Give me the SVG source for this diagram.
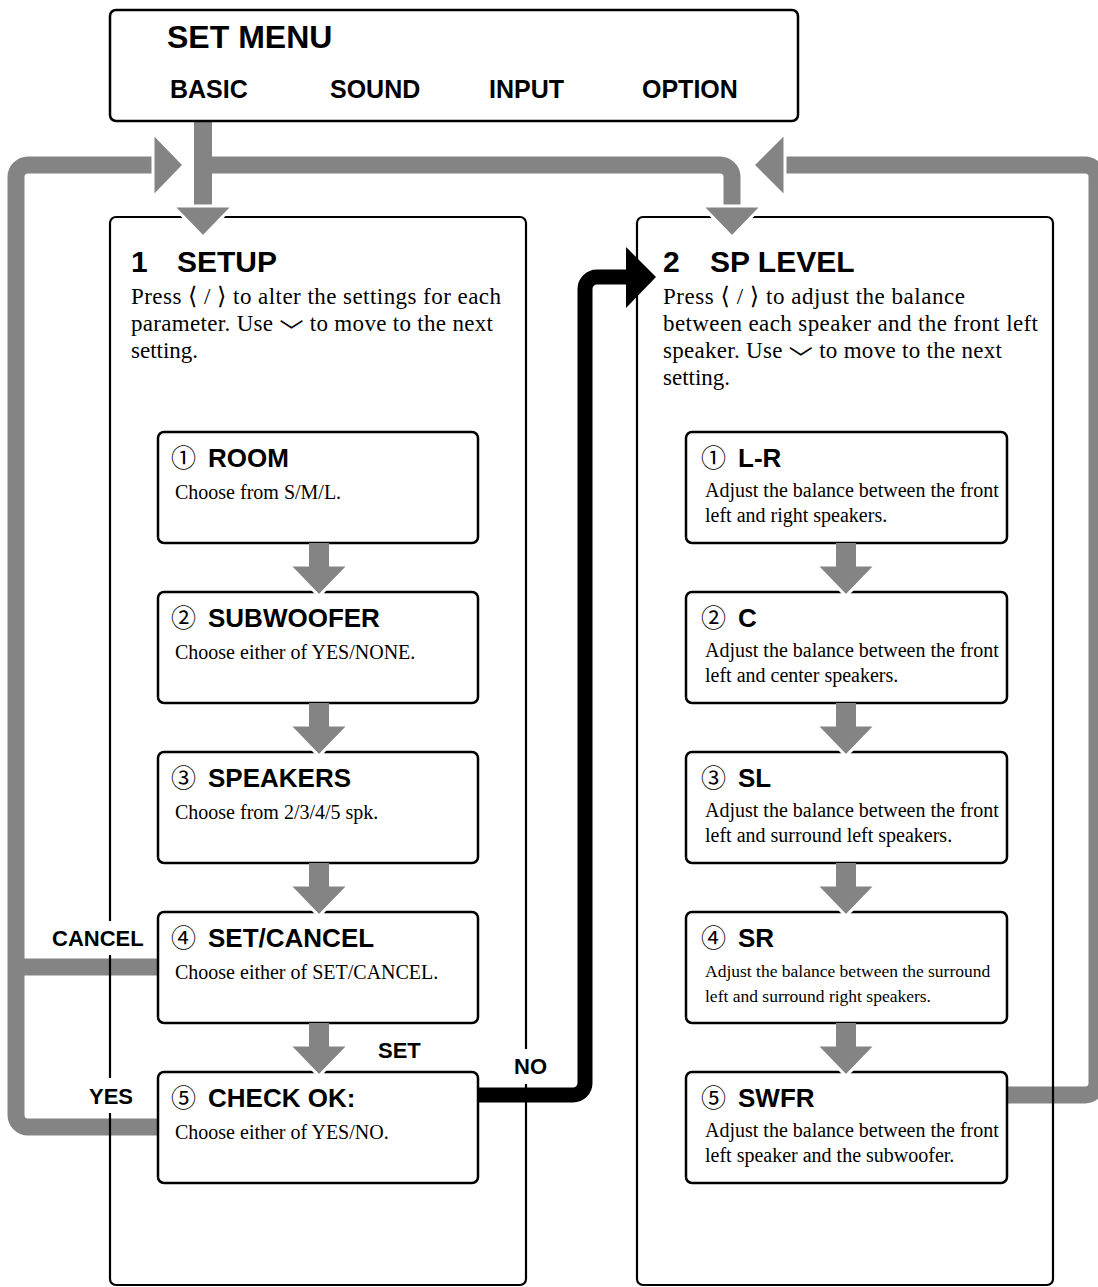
<svg xmlns="http://www.w3.org/2000/svg" width="1098" height="1287" viewBox="0 0 1098 1287">
<defs>
<style>
.frame{fill:none;stroke:#000;stroke-width:2.2}
.box{fill:#fff;stroke:#000;stroke-width:2.5}
.bar{fill:none;stroke:#848484;stroke-width:17;stroke-linejoin:round}
.head{fill:#848484;stroke:#fff;stroke-width:3;stroke-linejoin:miter}
.shaft{fill:#848484}
.bsans{font-family:"Liberation Sans",Arial,sans-serif;font-weight:bold;fill:#000}
.serif{font-family:"Liberation Serif","Times New Roman",serif;fill:#000}
.sym{font-family:"DejaVu Sans",sans-serif;font-size:24px}
.chev{font-family:"Noto Sans CJK JP",sans-serif;font-size:24px}
.circ{font-family:"Noto Sans CJK JP","DejaVu Sans",sans-serif;font-size:25px;fill:#000}
.ptitle{font-size:30px}
.btitle{font-size:26px}
.ptext{font-size:23px}
.btext{font-size:20px}
.lbl{font-size:22px}
</style>
</defs>

<!-- connectors (bars) -->
<g id="connectors">
  <path class="bar" d="M158 967 H16"/>
  <path class="bar" d="M158 1127 H28 A12 12 0 0 1 16 1115 V177 A12 12 0 0 1 28 165 H155"/>
  <path class="bar" d="M203 165 H720 A12 12 0 0 1 732 177 V208"/>
  <path class="bar" d="M1006 1095 H1085 A12 12 0 0 0 1097 1083 V177 A12 12 0 0 0 1085 165 H783"/>
  <path d="M478 1095 H573 A12 12 0 0 0 585 1083 V289 A12 12 0 0 1 597 277 H628" fill="none" stroke="#000" stroke-width="15"/>
  <rect class="shaft" x="194" y="108" width="18" height="100"/>
</g>

<!-- panels -->
<g id="setmenu">
  <rect class="box" x="110" y="10" width="688" height="111" rx="6"/>
  <text class="bsans" x="167" y="48" font-size="32">SET MENU</text>
  <text class="bsans" x="170" y="98" font-size="25">BASIC</text>
  <text class="bsans" x="330" y="98" font-size="25">SOUND</text>
  <text class="bsans" x="489" y="98" font-size="25">INPUT</text>
  <text class="bsans" x="642" y="98" font-size="25">OPTION</text>
</g>

<g id="panel-setup">
  <rect class="frame" x="110" y="217" width="416" height="1068" rx="6"/>
  <text class="bsans ptitle" x="131" y="272">1</text>
  <text class="bsans ptitle" x="177" y="272">SETUP</text>
  <text class="serif ptext" x="131" y="304" textLength="370">Press <tspan class="sym">⟨</tspan> / <tspan class="sym">⟩</tspan> to alter the settings for each</text>
  <text class="serif ptext" x="131" y="331" textLength="362">parameter. Use <tspan class="chev" dy="9">﹀</tspan><tspan dy="-9"> to move to the next</tspan></text>
  <text class="serif ptext" x="131" y="358">setting.</text>
</g>

<g id="panel-splevel">
  <rect class="frame" x="637" y="217" width="416" height="1068" rx="6"/>
  <text class="bsans ptitle" x="663" y="272">2</text>
  <text class="bsans ptitle" x="710" y="272">SP LEVEL</text>
  <text class="serif ptext" x="663" y="304" textLength="302">Press <tspan class="sym">⟨</tspan> / <tspan class="sym">⟩</tspan> to adjust the balance</text>
  <text class="serif ptext" x="663" y="331" textLength="375">between each speaker and the front left</text>
  <text class="serif ptext" x="663" y="358" textLength="339">speaker. Use <tspan class="chev" dy="9">﹀</tspan><tspan dy="-9"> to move to the next</tspan></text>
  <text class="serif ptext" x="663" y="385">setting.</text>
</g>

<!-- left boxes -->
<g id="room">
  <rect class="box" x="158" y="432" width="320" height="111" rx="6"/>
  <text class="circ" x="171" y="467">①</text>
  <text class="bsans btitle" x="208" y="467">ROOM</text>
  <text class="serif btext" x="175" y="499">Choose from S/M/L.</text>
</g>
<g id="subwoofer">
  <rect class="box" x="158" y="592" width="320" height="111" rx="6"/>
  <text class="circ" x="171" y="627">②</text>
  <text class="bsans btitle" x="208" y="627">SUBWOOFER</text>
  <text class="serif btext" x="175" y="659">Choose either of YES/NONE.</text>
</g>
<g id="speakers">
  <rect class="box" x="158" y="752" width="320" height="111" rx="6"/>
  <text class="circ" x="171" y="787">③</text>
  <text class="bsans btitle" x="208" y="787">SPEAKERS</text>
  <text class="serif btext" x="175" y="819">Choose from 2/3/4/5 spk.</text>
</g>
<g id="setcancel">
  <rect class="box" x="158" y="912" width="320" height="111" rx="6"/>
  <text class="circ" x="171" y="947">④</text>
  <text class="bsans btitle" x="208" y="947">SET/CANCEL</text>
  <text class="serif btext" x="175" y="979">Choose either of SET/CANCEL.</text>
</g>
<g id="checkok">
  <rect class="box" x="158" y="1072" width="320" height="111" rx="6"/>
  <text class="circ" x="171" y="1107">⑤</text>
  <text class="bsans btitle" x="208" y="1107">CHECK OK:</text>
  <text class="serif btext" x="175" y="1139">Choose either of YES/NO.</text>
</g>

<!-- right boxes -->
<g id="lr">
  <rect class="box" x="686" y="432" width="321" height="111" rx="6"/>
  <text class="circ" x="701" y="467">①</text>
  <text class="bsans btitle" x="738" y="467">L-R</text>
  <text class="serif btext" x="705" y="497">Adjust the balance between the front</text>
  <text class="serif btext" x="705" y="522">left and right speakers.</text>
</g>
<g id="c">
  <rect class="box" x="686" y="592" width="321" height="111" rx="6"/>
  <text class="circ" x="701" y="627">②</text>
  <text class="bsans btitle" x="738" y="627">C</text>
  <text class="serif btext" x="705" y="657">Adjust the balance between the front</text>
  <text class="serif btext" x="705" y="682">left and center speakers.</text>
</g>
<g id="sl">
  <rect class="box" x="686" y="752" width="321" height="111" rx="6"/>
  <text class="circ" x="701" y="787">③</text>
  <text class="bsans btitle" x="738" y="787">SL</text>
  <text class="serif btext" x="705" y="817">Adjust the balance between the front</text>
  <text class="serif btext" x="705" y="842">left and surround left speakers.</text>
</g>
<g id="sr">
  <rect class="box" x="686" y="912" width="321" height="111" rx="6"/>
  <text class="circ" x="701" y="947">④</text>
  <text class="bsans btitle" x="738" y="947">SR</text>
  <text class="serif" font-size="17.5" x="705" y="977">Adjust the balance between the surround</text>
  <text class="serif" font-size="17.5" x="705" y="1002">left and surround right speakers.</text>
</g>
<g id="swfr">
  <rect class="box" x="686" y="1072" width="321" height="111" rx="6"/>
  <text class="circ" x="701" y="1107">⑤</text>
  <text class="bsans btitle" x="738" y="1107">SWFR</text>
  <text class="serif btext" x="705" y="1137">Adjust the balance between the front</text>
  <text class="serif btext" x="705" y="1162">left speaker and the subwoofer.</text>
</g>

<!-- arrowheads and step arrows -->
<g id="arrowheads">
  <polygon class="head" points="173,206 233,206 203,237"/>
  <polygon class="head" points="702,206 762,206 732,237"/>
  <polygon class="head" points="153,133 184,165 153,197"/>
  <polygon class="head" points="785,133 753,165 785,197"/>
  <polygon points="626,247 656,277 626,308" fill="#000"/>

  <polygon class="head" points="289,565 349,565 319,596"/>
  <rect class="shaft" x="309" y="543" width="20" height="24"/>
  <polygon class="head" points="289,725 349,725 319,756"/>
  <rect class="shaft" x="309" y="703" width="20" height="24"/>
  <polygon class="head" points="289,885 349,885 319,916"/>
  <rect class="shaft" x="309" y="863" width="20" height="24"/>
  <polygon class="head" points="289,1045 349,1045 319,1076"/>
  <rect class="shaft" x="309" y="1023" width="20" height="24"/>

  <polygon class="head" points="816,565 876,565 846,596"/>
  <rect class="shaft" x="836" y="543" width="20" height="24"/>
  <polygon class="head" points="816,725 876,725 846,756"/>
  <rect class="shaft" x="836" y="703" width="20" height="24"/>
  <polygon class="head" points="816,885 876,885 846,916"/>
  <rect class="shaft" x="836" y="863" width="20" height="24"/>
  <polygon class="head" points="816,1045 876,1045 846,1076"/>
  <rect class="shaft" x="836" y="1023" width="20" height="24"/>
</g>

<!-- labels -->
<g id="labels">
  <rect x="50" y="921" width="102" height="34" fill="#fff"/>
  <text class="bsans lbl" x="52" y="946">CANCEL</text>
  <rect x="86" y="1078" width="52" height="35" fill="#fff"/>
  <text class="bsans lbl" x="89" y="1104">YES</text>
  <text class="bsans lbl" x="378" y="1058">SET</text>
  <rect x="511" y="1049" width="40" height="35" fill="#fff"/>
  <text class="bsans lbl" x="514" y="1074">NO</text>
</g>
</svg>
